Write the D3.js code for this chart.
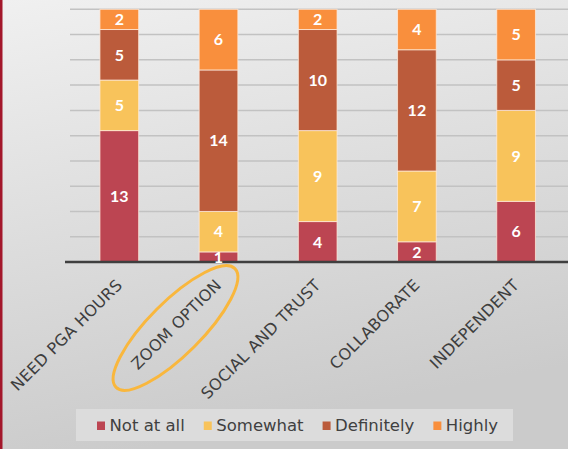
<!DOCTYPE html>
<html>
<head>
<meta charset="utf-8">
<script src="https://cdn.jsdelivr.net/npm/d3@7"></script>
<style>
  html, body { margin: 0; padding: 0; }
  body { width: 568px; height: 449px; overflow: hidden; }
</style>
</head>
<body>
<svg id="chart" width="568" height="449"></svg>
<script>
const categories = ["NEED PGA HOURS", "ZOOM OPTION", "SOCIAL AND TRUST", "COLLABORATE", "INDEPENDENT"];
const seriesNames = ["Not at all", "Somewhat", "Definitely", "Highly"];
const notAtAll = [13, 1, 4, 2, 6];
const somewhat = [5, 4, 9, 7, 9];
const definitely = [5, 14, 10, 12, 5];
const highly = [2, 6, 2, 4, 5];
const gridTicks = [0, 2.5, 5, 7.5, 10, 12.5, 15, 17.5, 20, 22.5, 25];

const colors = ["#bc4552", "#f8c35b", "#bb5b3b", "#f98f3d"];

const W = 568, H = 449;
const svg = d3.select("#chart");

// background
const defs = svg.append("defs");
const grad = defs.append("linearGradient").attr("id", "bg")
  .attr("x1", 0).attr("y1", 0).attr("x2", 0.25).attr("y2", 1);
grad.append("stop").attr("offset", "0%").attr("stop-color", "#f0f0f0");
grad.append("stop").attr("offset", "100%").attr("stop-color", "#cbcbcb");
svg.append("rect").attr("width", W).attr("height", H).attr("fill", "url(#bg)");
svg.append("rect").attr("x", 0).attr("y", 0).attr("width", 2.5).attr("height", H).attr("fill", "#a3172b");

// table for stacking
const table = categories.map((c, i) => ({
  cat: c,
  "Not at all": notAtAll[i],
  "Somewhat": somewhat[i],
  "Definitely": definitely[i],
  "Highly": highly[i]
}));
const stacked = d3.stack().keys(seriesNames)(table);

const x = d3.scaleBand()
  .domain(categories)
  .range([69.7, 565.7])
  .paddingInner(0.61)
  .paddingOuter(0.305);

const y = d3.scaleLinear().domain([0, 25]).range([262, 9.3]);

// gridlines
svg.append("g")
  .selectAll("line")
  .data(gridTicks.filter(d => d > 0))
  .join("line")
  .attr("x1", 70).attr("x2", W)
  .attr("y1", d => y(d)).attr("y2", d => y(d))
  .attr("stroke", "#c2c2c2")
  .attr("stroke-width", 1.5);

// bars
svg.append("g")
  .selectAll("g")
  .data(stacked)
  .join("g")
  .attr("fill", (d, i) => colors[i])
  .selectAll("rect")
  .data(d => d)
  .join("rect")
  .attr("x", d => x(d.data.cat))
  .attr("y", d => y(d[1]))
  .attr("height", d => y(d[0]) - y(d[1]))
  .attr("width", x.bandwidth())
  .attr("stroke", "rgba(255,235,220,0.75)")
  .attr("stroke-width", 1);

// x axis line
const xAxis = svg.append("g")
  .attr("transform", "translate(0," + y(0) + ")")
  .call(d3.axisBottom(x).tickSize(0).tickFormat(""));
xAxis.select(".domain").remove();
xAxis.append("line")
  .attr("x1", 65).attr("x2", W)
  .attr("stroke", "#3f3f3f").attr("stroke-width", 2.3);

// category labels
svg.append("g")
  .selectAll("text")
  .data(categories)
  .join("text")
  .attr("transform", d => "translate(" + (x(d) + x.bandwidth() / 2 + 4) + ",286) rotate(-45)")
  .attr("text-anchor", "end")
  .attr("font-family", "DejaVu Sans")
  .attr("font-size", 16)
  .attr("letter-spacing", 0.3)
  .attr("fill", "#3e3e3e")
  .text(d => d);

// value labels
svg.append("g")
  .selectAll("g")
  .data(stacked)
  .join("g")
  .selectAll("text")
  .data(d => d)
  .join("text")
  .attr("x", d => x(d.data.cat) + x.bandwidth() / 2)
  .attr("y", d => (y(d[0]) + y(d[1])) / 2)
  .attr("dy", "0.36em")
  .attr("text-anchor", "middle")
  .attr("font-family", "Lato")
  .attr("font-weight", "bold")
  .attr("font-size", 16)
  .attr("fill", "#ffffff")
  .text(d => d[1] - d[0]);

// annotation ellipse around ZOOM OPTION
svg.append("ellipse")
  .attr("transform", "translate(175.5,328) rotate(-45)")
  .attr("rx", 84).attr("ry", 26.5)
  .attr("fill", "none")
  .attr("stroke", "#f9b73d")
  .attr("stroke-width", 3);

// legend
svg.append("rect")
  .attr("x", 76).attr("y", 409)
  .attr("width", 437).attr("height", 32)
  .attr("fill", "#dcdcdc");

const legend = svg.append("g");
let lx = 97;
seriesNames.forEach((name, i) => {
  legend.append("rect")
    .attr("x", lx).attr("y", 421.5)
    .attr("width", 8).attr("height", 8.5)
    .attr("fill", colors[i]);
  const t = legend.append("text")
    .attr("x", lx + 12.5).attr("y", 430.5)
    .attr("font-family", "DejaVu Sans")
    .attr("font-size", 16.5)
    .attr("fill", "#404040")
    .text(name);
  lx += 12.5 + t.node().getComputedTextLength() + 19;
});
</script>
</body>
</html>
